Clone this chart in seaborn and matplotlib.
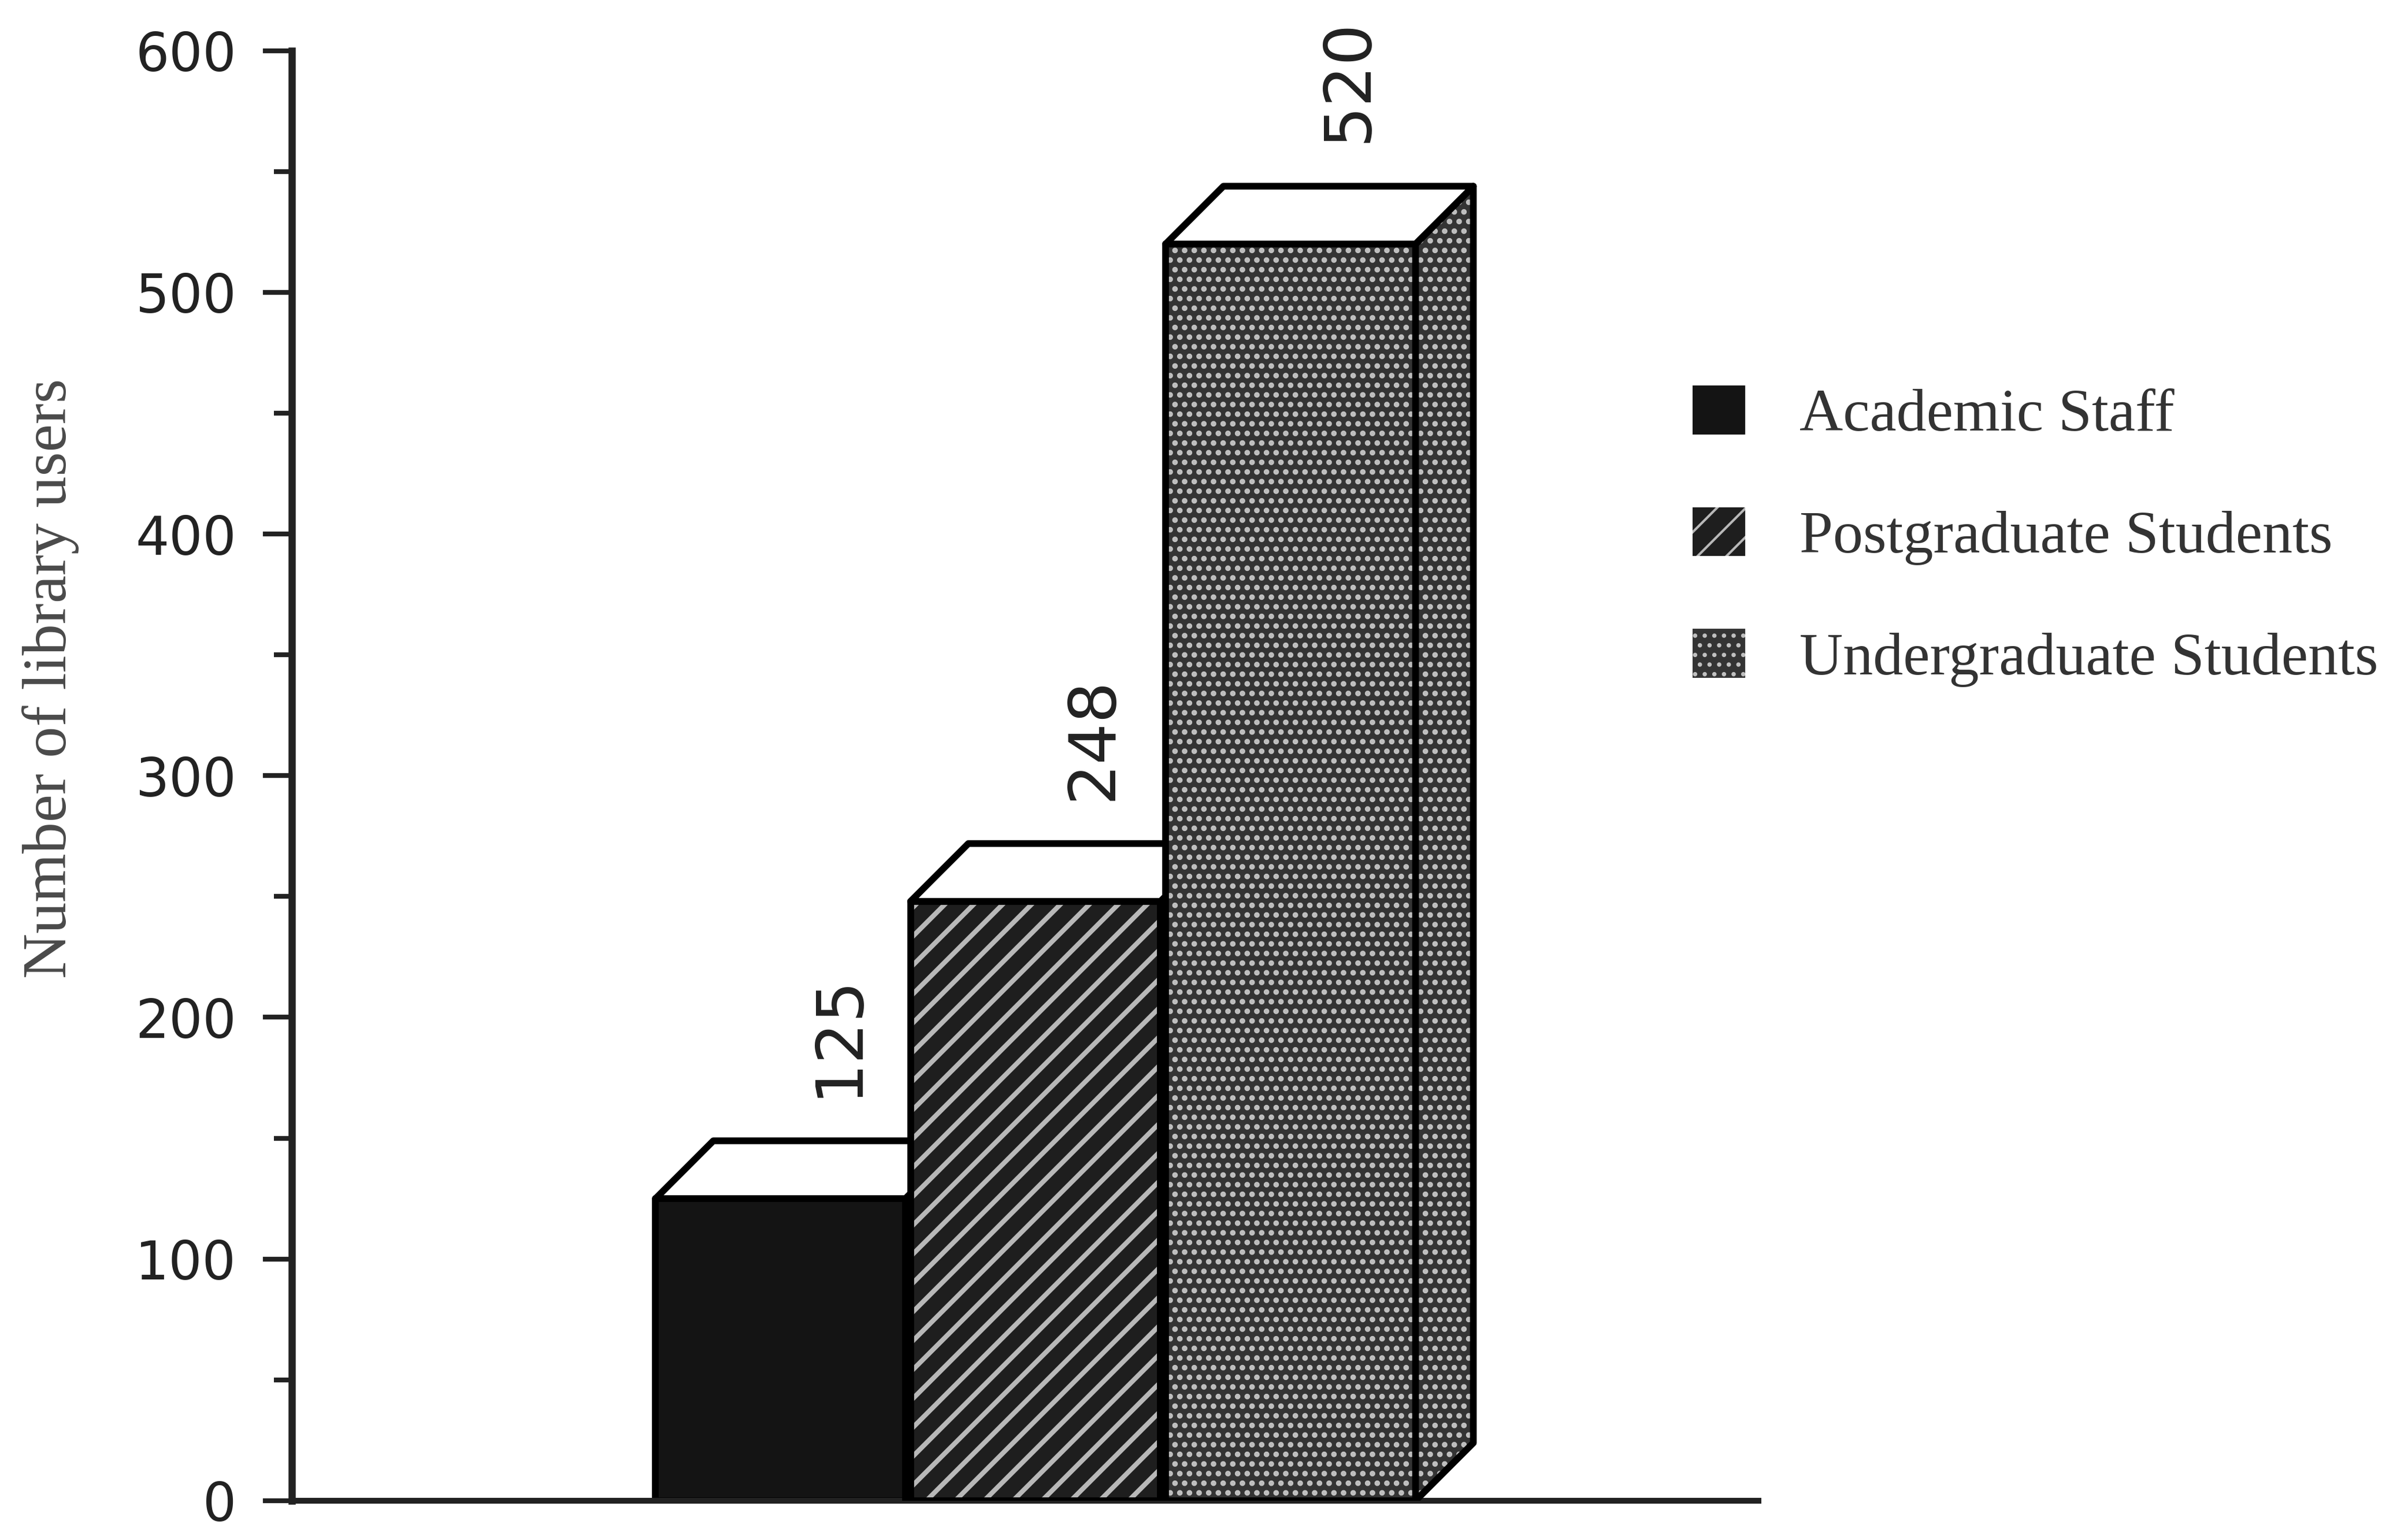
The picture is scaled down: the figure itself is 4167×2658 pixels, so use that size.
import numpy as np
import pandas as pd
import matplotlib
matplotlib.use("Agg")
import matplotlib.pyplot as plt
from matplotlib.patches import Polygon, Rectangle, Patch
from matplotlib.ticker import MultipleLocator
import seaborn as sns

# Library users by group
categories = ["Academic Staff", "Postgraduate Students", "Undergraduate Students"]
users = [125, 248, 520]
y_ticks = [0, 100, 200, 300, 400, 500, 600]

# Fill styles for each group (solid, diagonal stripes, dotted screen)
face_colors = ["#141414", "#1e1e1e", "#343434"]
hatches = ["", "//", "..."]
hatch_colors = ["#141414", "#b8b8b8", "#c0c0c0"]
hatch_widths = [1.0, 2.0, 1.5]

sns.set_style("ticks")
plt.rcParams["font.family"] = ["DejaVu Sans"]

fig = plt.figure(figsize=(4167 / 300, 2658 / 300), dpi=300)
ax = fig.add_axes([0.1212, 0.023, 0.6090, 0.944])

df = pd.DataFrame({"group": categories, "users": users})
sns.barplot(data=df, x="group", y="users", hue="group", order=categories,
            hue_order=categories, palette=face_colors, width=0.98,
            saturation=1, legend=False, ax=ax)

ax.set_xlim(-1.916, 3.834)
ax.set_ylim(0, 600)
ax.set_yticks(y_ticks)
ax.yaxis.set_minor_locator(MultipleLocator(50))


def hatched(patch_cls, *args, hatch, color, lw, **kw):
    """Patch carrying only a hatch pattern in its own colour and line width."""
    with plt.rc_context({"hatch.linewidth": lw}):
        p = patch_cls(*args, fill=False, hatch=hatch, edgecolor=color,
                      linewidth=0, **kw)
    if hasattr(p, "set_hatch_linewidth"):
        p.set_hatch_linewidth(lw)
    return p


# Depth of the pseudo-3D boxes, given in points and converted to data units
DEPTH_PT = np.array([24.0, 24.0])
p0 = ax.transData.transform((0, 0))
dx, dy = ax.transData.inverted().transform(p0 + DEPTH_PT * fig.dpi / 72)

bars = sorted(ax.patches, key=lambda p: p.get_x())
outline = dict(edgecolor="black", linewidth=2.8, joinstyle="round")
for i, p in enumerate(bars):
    color, hatch = face_colors[i], hatches[i]
    hcol, hlw = hatch_colors[i], hatch_widths[i]
    z = 2 + 6 * i
    x0, w, h = p.get_x(), p.get_width(), p.get_height()
    # front face
    p.set_edgecolor("none")
    p.set_linewidth(0)
    p.set_zorder(z)
    if hatch:
        ax.add_patch(hatched(Rectangle, (x0, 0), w, h, hatch=hatch, color=hcol,
                             lw=hlw, zorder=z + 0.2))
    ax.add_patch(Rectangle((x0, 0), w, h, fill=False, zorder=z + 0.5, **outline))
    # right side face
    side = [(x0 + w, 0), (x0 + w + dx, dy), (x0 + w + dx, h + dy), (x0 + w, h)]
    ax.add_patch(Polygon(side, closed=True, facecolor=color, edgecolor="none",
                         linewidth=0, zorder=z + 1))
    if hatch:
        ax.add_patch(hatched(Polygon, side, closed=True, hatch=hatch, color=hcol,
                             lw=hlw, zorder=z + 1.2))
    ax.add_patch(Polygon(side, closed=True, fill=False, zorder=z + 1.5, **outline))
    # top face
    top = [(x0, h), (x0 + w, h), (x0 + w + dx, h + dy), (x0 + dx, h + dy)]
    ax.add_patch(Polygon(top, closed=True, facecolor="white", zorder=z + 2, **outline))
    # value label above the back edge of the top face
    ax.annotate(f"{int(h)}", xy=(x0 + w / 2 + dx, h + dy), xytext=(0, 18),
                textcoords="offset points", rotation=90, ha="center", va="bottom",
                fontsize=27, color="#222222", zorder=40)

sns.despine(ax=ax)
ax.spines["left"].set_linewidth(3.0)
ax.spines["left"].set_color("#222222")
ax.spines["bottom"].set_linewidth(2.4)
ax.spines["bottom"].set_color("#222222")
ax.tick_params(axis="y", which="major", length=12, width=2, pad=11,
               labelsize=22, labelcolor="#222222", color="#222222", direction="out")
ax.tick_params(axis="y", which="minor", length=7.5, width=2, color="#222222",
               direction="out")
ax.tick_params(axis="x", bottom=False, labelbottom=False)
ax.set_xlabel("")

ax.set_ylabel("Number of library users", family="Liberation Serif", size=26,
              color="#4a4a4a")
ax.yaxis.set_label_coords(-0.145, 0.567)

# Legend keys: base colour plus the same hatch overlay
handles = []
for c, h, hc, hw in zip(face_colors, hatches, hatch_colors, hatch_widths):
    with plt.rc_context({"hatch.linewidth": hw}):
        hp = Patch(facecolor=c, edgecolor=hc, hatch=h or None, linewidth=0)
    if hasattr(hp, "set_hatch_linewidth"):
        hp.set_hatch_linewidth(hw)
    handles.append(hp)
fig.legend(handles, categories, loc="upper left", bbox_to_anchor=(0.703, 0.749),
           frameon=False, prop={"family": "Liberation Serif", "size": 25},
           labelcolor="#333333", handlelength=0.87, handleheight=0.87,
           handletextpad=0.9, labelspacing=1.06, borderpad=0, borderaxespad=0)

fig.savefig("out.png", dpi=300, facecolor="white")
